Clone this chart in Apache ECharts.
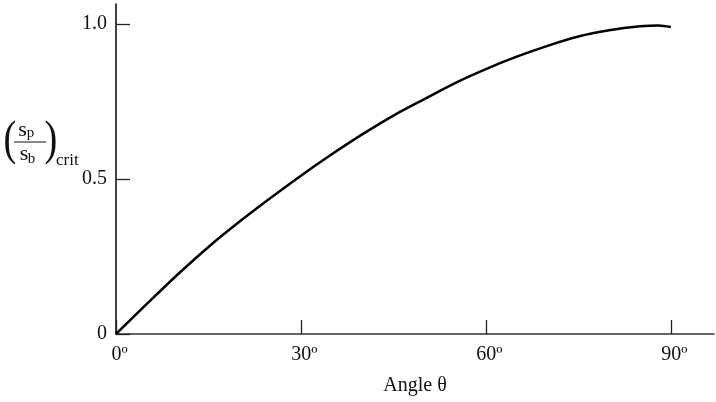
<!DOCTYPE html>
<html>
<head>
<meta charset="utf-8">
<script src="https://cdn.jsdelivr.net/npm/echarts@6/dist/echarts.min.js"></script>
<style>
  html, body { margin: 0; padding: 0; background: #fff; }
  #chart { width: 716px; height: 402px; }
</style>
</head>
<body>
<div id="chart"></div>
<script>
// Critical ratio s_p / s_b against angle θ (degrees)
const angles = [0, 5, 10, 15, 20, 25, 30, 35, 40, 45, 50, 55, 60, 65, 70, 75, 80, 85, 88, 90];
const ratios = [0, 0.097, 0.192, 0.281, 0.362, 0.438, 0.511, 0.580, 0.645, 0.705, 0.758, 0.810, 0.855, 0.895, 0.930, 0.960, 0.980, 0.993, 0.996, 0.991];
const xTicks = [0, 30, 60, 90];
const yTicks = [0, 0.5, 1.0];
const xTickLabels = ['0º', '30º', '60º', '90º'];
const yTickLabels = ['0', '0.5', '1.0'];

const serif = '"Liberation Serif", "DejaVu Serif", serif';
const chart = echarts.init(document.getElementById('chart'), null, { renderer: 'canvas' });

// helper for the small text pieces of the y-axis title
function txt(x, y, text, size, align) {
  return {
    type: 'text', x: x, y: y,
    style: { text: text, font: size + 'px ' + serif, fill: '#111', align: align || 'center', verticalAlign: 'middle' }
  };
}
function paren(x, y, ch) {
  const t = txt(x, y, ch, 48);
  t.scaleX = 0.8;
  t.originX = 0;
  t.originY = 0;
  return t;
}

chart.setOption({
  animation: false,
  backgroundColor: '#fff',
  grid: { left: 116, right: 2, top: 4, bottom: 68, containLabel: false, outerBoundsMode: 'none' },
  xAxis: {
    type: 'value',
    min: 0,
    max: 97,
    name: 'Angle θ',
    nameLocation: 'middle',
    nameGap: 42,
    nameTextStyle: { fontFamily: serif, fontSize: 20, color: '#111' },
    axisLine: { lineStyle: { color: '#333', width: 1.5 } },
    axisTick: { inside: true, length: 14, customValues: xTicks, lineStyle: { color: '#222', width: 1.3 } },
    axisLabel: {
      customValues: xTicks,
      formatter: v => xTickLabels[xTicks.indexOf(v)],
      fontFamily: serif, fontSize: 20, color: '#111', margin: 11,
      padding: [0, 0, 0, 7]
    },
    splitLine: { show: false }
  },
  yAxis: {
    type: 'value',
    min: 0,
    max: 1.065,
    axisLine: { show: true, lineStyle: { color: '#000', width: 1.5 } },
    axisTick: { show: true, inside: true, length: 14, customValues: yTicks, lineStyle: { color: '#222', width: 1.3 } },
    axisLabel: {
      customValues: yTicks,
      formatter: v => yTickLabels[yTicks.indexOf(v)],
      fontFamily: serif, fontSize: 20, color: '#111', margin: 9
    },
    splitLine: { show: false }
  },
  graphic: [
    paren(10, 141, '('),
    txt(22.5, 130, 's', 22),
    txt(30.5, 133.5, 'p', 15),
    { type: 'line', shape: { x1: 14, y1: 142, x2: 46, y2: 142 }, style: { stroke: '#111', lineWidth: 1 } },
    txt(24, 154, 's', 22),
    txt(31.5, 159.5, 'b', 15),
    paren(51, 141, ')'),
    txt(56, 161, 'crit', 17, 'left')
  ],
  series: [{
    type: 'line',
    data: angles.map((a, i) => [a, ratios[i]]),
    smooth: 0.3,
    showSymbol: false,
    lineStyle: { color: '#000', width: 2.5 }
  }]
});
</script>
</body>
</html>
